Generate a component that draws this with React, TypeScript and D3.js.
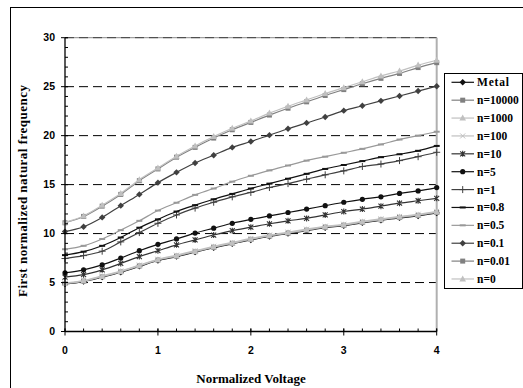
import React from "react";
import * as d3 from "d3";

const xValues = [0, 0.2, 0.4, 0.6, 0.8, 1.0, 1.2, 1.4, 1.6, 1.8, 2.0, 2.2, 2.4, 2.6, 2.8, 3.0, 3.2, 3.4, 3.6, 3.8, 4.0];

const metal = [4.85, 5.1, 5.55, 6.05, 6.65, 7.25, 7.65, 8.1, 8.55, 8.95, 9.35, 9.7, 10.0, 10.3, 10.6, 10.8, 11.1, 11.35, 11.6, 11.8, 12.1];
const n10000 = [4.9, 5.15, 5.6, 6.1, 6.7, 7.3, 7.7, 8.15, 8.6, 9.0, 9.4, 9.75, 10.05, 10.35, 10.65, 10.85, 11.15, 11.4, 11.65, 11.85, 12.15];
const n1000 = [4.9, 5.15, 5.62, 6.12, 6.72, 7.32, 7.72, 8.18, 8.62, 9.02, 9.42, 9.78, 10.08, 10.38, 10.68, 10.88, 11.18, 11.43, 11.68, 11.9, 12.2];
const n100 = [4.95, 5.2, 5.68, 6.18, 6.78, 7.38, 7.8, 8.25, 8.7, 9.1, 9.5, 9.85, 10.15, 10.45, 10.75, 10.95, 11.25, 11.5, 11.75, 11.97, 12.27];
const n10 = [5.55, 5.8, 6.3, 6.95, 7.65, 8.25, 8.85, 9.35, 9.85, 10.3, 10.65, 11.0, 11.3, 11.55, 11.9, 12.25, 12.5, 12.8, 13.1, 13.35, 13.6];
const n5 = [6.0, 6.3, 6.8, 7.5, 8.25, 8.9, 9.45, 10.05, 10.55, 11.05, 11.45, 11.8, 12.15, 12.5, 12.85, 13.2, 13.5, 13.75, 14.1, 14.35, 14.7];
const n1 = [7.45, 7.75, 8.2, 9.15, 10.1, 11.05, 11.9, 12.6, 13.2, 13.75, 14.2, 14.7, 15.1, 15.55, 16.0, 16.4, 16.85, 17.1, 17.45, 17.85, 18.3];
const n08 = [7.8, 8.15, 8.75, 9.6, 10.6, 11.45, 12.25, 12.9, 13.5, 14.05, 14.6, 15.1, 15.6, 16.1, 16.6, 17.0, 17.4, 17.8, 18.1, 18.45, 18.95];
const n05 = [8.4, 8.75, 9.45, 10.35, 11.3, 12.35, 13.15, 13.95, 14.6, 15.3, 15.9, 16.45, 16.95, 17.45, 17.85, 18.25, 18.65, 19.1, 19.6, 20.0, 20.4];
const n01 = [10.2, 10.7, 11.65, 12.85, 14.0, 15.2, 16.25, 17.2, 18.0, 18.8, 19.4, 20.05, 20.7, 21.3, 21.9, 22.55, 23.05, 23.55, 24.05, 24.55, 25.05];
const n001 = [11.1, 11.75, 12.8, 14.0, 15.4, 16.6, 17.8, 18.8, 19.75, 20.6, 21.35, 22.1, 22.8, 23.45, 24.1, 24.7, 25.3, 25.85, 26.35, 26.95, 27.45];
const n0 = [11.15, 11.8, 12.9, 14.1, 15.5, 16.7, 17.9, 18.95, 19.9, 20.75, 21.5, 22.3, 23.0, 23.65, 24.3, 24.9, 25.5, 26.1, 26.6, 27.2, 27.7];

const seriesNames = ["Metal", "n=10000", "n=1000", "n=100", "n=10", "n=5", "n=1", "n=0.8", "n=0.5", "n=0.1", "n=0.01", "n=0"];
const seriesData = [metal, n10000, n1000, n100, n10, n5, n1, n08, n05, n01, n001, n0];
const seriesColors = ["#111111", "#808080", "#c0c0c0", "#c0c0c0", "#333333", "#111111", "#404040", "#111111", "#999999", "#404040", "#808080", "#c0c0c0"];
const seriesMarkers = ["diamond", "square", "triangle", "x", "asterisk", "circle", "plus", "dash", "dash", "diamond", "square", "triangle"];

const yTicks = [0, 5, 10, 15, 20, 25, 30];
const xTicks = [0, 1, 2, 3, 4];

const SERIF = "'Liberation Serif', 'Times New Roman', Times, serif";
const SANS = "'Liberation Sans', Arial, sans-serif";

function Marker({ type, cx, cy, color }: { type: string; cx: number; cy: number; color: string }) {
  switch (type) {
    case "diamond":
      return <path d={`M${cx},${cy - 3.2}L${cx + 3.2},${cy}L${cx},${cy + 3.2}L${cx - 3.2},${cy}Z`} fill={color} />;
    case "square":
      return <rect x={cx - 2.5} y={cy - 2.5} width={5} height={5} fill={color} />;
    case "triangle":
      return <path d={`M${cx},${cy - 3.5}L${cx + 3.3},${cy + 2.5}L${cx - 3.3},${cy + 2.5}Z`} fill={color} />;
    case "circle":
      return <circle cx={cx} cy={cy} r={2.6} fill={color} />;
    case "x":
      return <path d={`M${cx - 2.5},${cy - 2.5}L${cx + 2.5},${cy + 2.5}M${cx - 2.5},${cy + 2.5}L${cx + 2.5},${cy - 2.5}`} stroke={color} strokeWidth={1} fill="none" />;
    case "asterisk":
      return <path d={`M${cx - 2.5},${cy - 2.5}L${cx + 2.5},${cy + 2.5}M${cx - 2.5},${cy + 2.5}L${cx + 2.5},${cy - 2.5}M${cx},${cy - 3}L${cx},${cy + 3}`} stroke={color} strokeWidth={1.1} fill="none" />;
    case "plus":
      return <path d={`M${cx - 3.5},${cy}L${cx + 3.5},${cy}M${cx},${cy - 3.5}L${cx},${cy + 3.5}`} stroke={color} strokeWidth={1} fill="none" />;
    case "dash":
      return <path d={`M${cx - 3},${cy}L${cx + 3},${cy}`} stroke={color} strokeWidth={2} fill="none" />;
    default:
      return null;
  }
}

export default function App() {
  const W = 523, H = 388;
  const x = d3.scaleLinear().domain([0, 4]).range([65, 436.7]);
  const y = d3.scaleLinear().domain([0, 30]).range([331.5, 37.7]);
  const line = d3.line<number>().x((_, i) => x(xValues[i])).y((d) => y(d)).curve(d3.curveCatmullRom.alpha(0.5));

  const minorY = d3.range(0, 31, 1);
  const minorX = d3.range(0, 21).map((i) => i * 0.2);

  const legendX = 444, legendY = 73, legendW = 78, legendH = 215;
  const legendRow0 = 82.3, legendStep = 17.88;

  return (
    <svg width={W} height={H} style={{ position: "absolute", left: 0, top: 0, background: "#fff" }} xmlns="http://www.w3.org/2000/svg">
      <rect x={0} y={0} width={W} height={H} fill="#fff" />
      <rect x={10.5} y={7.5} width={W + 20} height={H + 20} fill="none" stroke="#000" strokeWidth={1} />

      {yTicks.filter((t) => t > 0 && t < 30).map((t) => (
        <line key={"g" + t} x1={x(0)} x2={x(4)} y1={y(t)} y2={y(t)} stroke="#000" strokeWidth={1} strokeDasharray="9,5" />
      ))}
      <line x1={x(0)} x2={x(4)} y1={y(30)} y2={y(30)} stroke="#8a8a8a" strokeWidth={1} />
      <line x1={x(0)} x2={x(4)} y1={y(30)} y2={y(30)} stroke="#000" strokeWidth={1} strokeDasharray="9,5" opacity={0.6} />
      <line x1={x(4)} x2={x(4)} y1={y(30)} y2={y(0)} stroke="#b0b0b0" strokeWidth={2} />

      {seriesData.map((data, si) => (
        <g key={"s" + si}>
          <path d={line(data) || ""} fill="none" stroke={seriesColors[si]} strokeWidth={1.2} />
          {data.map((v, i) => (
            <Marker key={i} type={seriesMarkers[si]} cx={x(xValues[i])} cy={y(v)} color={seriesColors[si]} />
          ))}
        </g>
      ))}

      <line x1={x(0)} x2={x(0)} y1={y(30)} y2={y(0)} stroke="#000" strokeWidth={1.3} />
      {minorY.map((t) => (
        <line key={"my" + t} x1={x(0)} x2={x(0) + 3} y1={y(t)} y2={y(t)} stroke="#000" strokeWidth={1} />
      ))}
      {yTicks.map((t) => (
        <g key={"yt" + t}>
          <line x1={x(0) - 4} x2={x(0) + 3} y1={y(t)} y2={y(t)} stroke="#000" strokeWidth={1} />
          <text x={55} y={y(t)} dy="0.36em" textAnchor="end" fontFamily={SANS} fontWeight="bold" fontSize={10.5} fill="#000">{t}</text>
        </g>
      ))}

      <line x1={x(0)} x2={x(4)} y1={y(0)} y2={y(0)} stroke="#000" strokeWidth={1.3} />
      {minorX.map((t, i) => (
        <line key={"mx" + i} x1={x(t)} x2={x(t)} y1={y(0) - 3} y2={y(0)} stroke="#000" strokeWidth={1} />
      ))}
      {xTicks.map((t) => (
        <g key={"xt" + t}>
          <line x1={x(t)} x2={x(t)} y1={y(0) - 3} y2={y(0) + 4} stroke="#000" strokeWidth={1} />
          <text x={x(t)} y={354} textAnchor="middle" fontFamily={SANS} fontWeight="bold" fontSize={10.5} fill="#000">{t}</text>
        </g>
      ))}

      <text x={251} y={383} textAnchor="middle" fontFamily={SERIF} fontWeight="bold" fontSize={13} fill="#000">Normalized Voltage</text>
      <text transform="translate(27,191) rotate(-90)" textAnchor="middle" fontFamily={SERIF} fontWeight="bold" fontSize={13} fill="#000" textLength={212} lengthAdjust="spacing">First normalized natural frequency</text>

      <rect x={legendX + 0.5} y={legendY + 0.5} width={legendW} height={legendH} fill="#fff" stroke="#000" strokeWidth={1} />
      {seriesNames.map((name, i) => {
        const ly = legendRow0 + i * legendStep;
        return (
          <g key={"l" + i}>
            <line x1={451.5} x2={474} y1={ly} y2={ly} stroke={seriesColors[i]} strokeWidth={1.2} />
            <Marker type={seriesMarkers[i]} cx={462.7} cy={ly} color={seriesColors[i]} />
            <text x={477} y={ly} dy="0.35em" fontFamily={SERIF} fontWeight="bold" fontSize={11.5} fill="#000" letterSpacing={name === "Metal" ? 0.8 : 0}>{name}</text>
          </g>
        );
      })}
    </svg>
  );
}
